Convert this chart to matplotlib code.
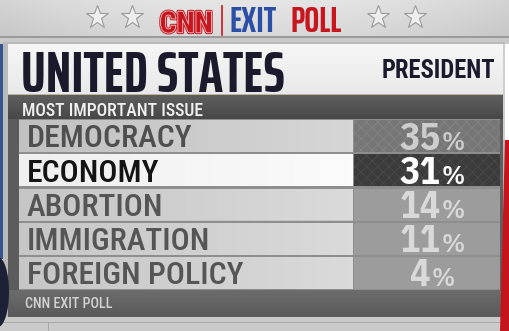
import numpy as np
import matplotlib
matplotlib.use("Agg")
import matplotlib.pyplot as plt
from matplotlib.patches import Rectangle, Polygon, Ellipse
from matplotlib.textpath import TextPath
from matplotlib.font_manager import FontProperties
import matplotlib.patheffects as pe

# ---------------- data ----------------
brand = "CNN"
header_left = "EXIT"
header_right = "POLL"
title = "UNITED STATES"
race = "PRESIDENT"
question = "MOST IMPORTANT ISSUE"
source = "CNN EXIT POLL"
categories = ["DEMOCRACY", "ECONOMY", "ABORTION", "IMMIGRATION", "FOREIGN POLICY"]
values = [35, 31, 14, 11, 4]
highlight = "ECONOMY"

# ---------------- style ----------------
W, H, DPI = 509, 331, 100
F_TITLE = ("Saira ExtraCondensed", 700, 0.688)
F_LABEL = ("Roboto Condensed", 500, 0.711)
F_BOLD = ("Roboto Condensed", 700, 0.711)
F_NUM = ("IBM Plex Sans Condensed", 700, 0.698)


def fsize(cap_px, font):
    return cap_px / font[2] * 72.0 / DPI


fig = plt.figure(figsize=(W / DPI, H / DPI), dpi=DPI)
ax = fig.add_axes([0, 0, 1, 1])
ax.set_xlim(0, W)
ax.set_ylim(H, 0)
ax.axis("off")


def hex2rgb(c):
    c = c.lstrip("#")
    return np.array([int(c[i:i + 2], 16) / 255 for i in (0, 2, 4)])


def grad(x0, x1, y0, y1, c0, c1, vertical=True, z=1, clip=None):
    a, b = hex2rgb(c0), hex2rgb(c1)
    t = np.linspace(0, 1, 32)
    arr = a[None, :] * (1 - t[:, None]) + b[None, :] * t[:, None]
    arr = arr[:, None, :] if vertical else arr[None, :, :]
    im = ax.imshow(arr, extent=(x0, x1, y1, y0), origin="upper",
                   interpolation="bilinear", aspect="auto", zorder=z)
    if clip is not None:
        im.set_clip_path(clip)
    return im


def rect(x0, y0, w, h, color, z=1, **kw):
    r = Rectangle((x0, y0), w, h, facecolor=color, edgecolor="none", zorder=z, **kw)
    ax.add_patch(r)
    return r


def ink(s, size, font):
    fp = FontProperties(family=font[0], weight=font[1])
    e = TextPath((0, 0), s, size=size, prop=fp).get_extents()
    k = DPI / 72.0
    return e.x0 * k, e.x1 * k


def fit_text(s, x0, x1, baseline, font, color, z=5, **kw):
    a, b = ink(s, 100, font)
    size = 100 * (x1 - x0) / (b - a)
    off = a * size / 100
    return ax.text(x0 - off, baseline, s, fontsize=size, family=font[0],
                   fontweight=font[1], color=color, ha="left", va="baseline",
                   zorder=z, **kw)


# ---------------- top banner ----------------
hx = np.linspace(-1, 1, 80)
hy = np.linspace(0, 1, 20)
base = 0.90 - 0.07 * hx[None, :] ** 2 - 0.05 * hy[:, None]
ban = np.repeat(base[:, :, None], 3, axis=2)
ax.imshow(ban, extent=(0, W, 38, 0), origin="upper", interpolation="bilinear",
          aspect="auto", zorder=1, vmin=0, vmax=1)
rect(0, 36, W, 2, "#9a9a9a", z=2)
rect(0, 38, W, 6, "#c9c9c9", z=2)

star_x = [97, 132, 378, 415]
ax.plot(star_x, [17] * len(star_x), ls="none", marker="*", ms=17,
        mfc="#eeeeee", mec="#9a9a9a", mew=0.8, zorder=3)

red = "#c8161e"
blue = "#2b4ea6"
fit_text(brand, 161, 211, 32.5, F_BOLD, red, z=4,
         path_effects=[pe.Stroke(linewidth=2.4, foreground=red),
                       pe.Stroke(linewidth=0.9, foreground="white"),
                       pe.Normal()])
ax.plot([222, 222], [6, 35], color=red, lw=1.2, zorder=4)
hdr_fs = fsize(24.5, F_TITLE)
a1, b1 = ink(header_left, hdr_fs, F_TITLE)
ax.text(231 - a1, 32.5, header_left, fontsize=hdr_fs, family=F_TITLE[0],
        fontweight=F_TITLE[1], color=blue, ha="left", va="baseline", zorder=4)
a2, b2 = ink(header_right, hdr_fs, F_TITLE)
px = max(292, 231 + (b1 - a1) + 5)
ax.text(px - a2, 32.5, header_right, fontsize=hdr_fs, family=F_TITLE[0],
        fontweight=F_TITLE[1], color=red, ha="left", va="baseline", zorder=4)

# ---------------- edges ----------------
rect(0, 44, 4, 215, "#34538f", z=2)
ax.add_patch(Ellipse((-2, 292), 22, 70, facecolor="#1c2136", edgecolor="none", zorder=6))
ax.add_patch(Polygon([[505, 140], [W, 140], [W, H], [500, H]], closed=True,
                     facecolor="#c4141c", edgecolor="none", zorder=6))
rect(503, 44, 2, 96, "#cfcfcf", z=5)

# ---------------- panel ----------------
rect(3, 42, 502, 276, "#b9b9b9", z=2)
grad(8, 503, 44, 95, "#f6f6f6", "#e9e9e9", z=3)
rect(8, 94, 495, 1, "#b8b59a", z=4)
grad(8, 503, 95, 119, "#5f5f5f", "#474747", z=3)
rect(8, 119, 495, 198, "#8e8e8e", z=3)
rect(8, 119, 11, 198, "#5c5c5c", z=3)
grad(8, 503, 290, 317, "#6c6c6c", "#5a5a5a", z=3)
rect(500, 119, 3, 171, "#5f5f5f", z=3)

# bottom strip
rect(0, 317, W, 14, "#cacaca", z=2)
rect(0, 322, W, 1, "#a9a9a9", z=2)
rect(48, 322, 1, 9, "#a9a9a9", z=2)

# title texts
navy = "#1b1a2c"
ax.text(21, 92.5, title, fontsize=fsize(40, F_TITLE), family=F_TITLE[0],
        fontweight=F_TITLE[1], color=navy, ha="left", va="baseline", zorder=5)
ax.text(495, 78.5, race, fontsize=fsize(17.5, F_BOLD), family=F_BOLD[0],
        fontweight=F_BOLD[1], color=navy, ha="right", va="baseline", zorder=5)
ax.text(22, 116, question, fontsize=fsize(12.6, F_LABEL), family=F_LABEL[0],
        fontweight=F_LABEL[1], color="#f0f0f0", ha="left", va="baseline", zorder=5)
ax.text(25, 308, source, fontsize=fsize(10, F_LABEL), family=F_LABEL[0],
        fontweight=F_LABEL[1], color="#d2d2d2", ha="left", va="baseline", zorder=5)

# ---------------- rows ----------------
n = len(categories)
row_top, pitch, row_h = 120.0, 34.25, 32.0
centers = row_top + row_h / 2 + pitch * np.arange(n)
lab_left, lab_w = 19, 334
val_left, val_w = 354, 146

is_hi = [c == highlight for c in categories]
lab_cols = []
val_cols = []
num_cols = []
txt_cols = []
for i, c in enumerate(categories):
    if is_hi[i]:
        lab_cols.append(("#efefef", "#fbfbfb")); val_cols.append("#3b3b3b")
        num_cols.append("#ffffff"); txt_cols.append("#141414")
    elif i == 0:
        lab_cols.append(("#c1c1c1", "#d6d6d6")); val_cols.append("#767676")
        num_cols.append("#cdcdcd"); txt_cols.append("#4f4f4f")
    else:
        lab_cols.append(("#c6c6c6", "#dadada")); val_cols.append("#9c9c9c")
        num_cols.append("#d9d9d9"); txt_cols.append("#555555")

lab_bars = ax.barh(centers, [lab_w] * n, left=lab_left, height=row_h,
                   color=[lc[0] for lc in lab_cols], linewidth=0, zorder=4)
for bar, lc in zip(lab_bars, lab_cols):
    x0, y0 = bar.get_x(), bar.get_y()
    grad(x0, x0 + bar.get_width(), y0, y0 + bar.get_height(), lc[0], lc[1],
         vertical=False, z=4.5, clip=bar)

plt.rcParams["hatch.linewidth"] = 0.6
val_bars = ax.barh(centers, [val_w] * n, left=val_left, height=row_h,
                   color=val_cols, linewidth=0, zorder=4)
for i, bar in enumerate(val_bars):
    if i <= 1:
        hcol = "#858585" if i == 0 else "#4a4a4a"
        hb = Rectangle((bar.get_x(), bar.get_y()), bar.get_width(), bar.get_height(),
                       facecolor="none", edgecolor=hcol, hatch="xxx", linewidth=0, zorder=4.6)
        ax.add_patch(hb)

fpn = FontProperties(family=F_NUM[0], weight=F_NUM[1])
num_fs = fsize(26.5, F_NUM)
pct_fs = fsize(19, F_NUM)
for i, (c, v) in enumerate(zip(categories, values)):
    cy = centers[i]
    ax.text(27, cy + 11.3, c, fontsize=fsize(22.5, F_LABEL), family=F_LABEL[0],
            fontweight=F_LABEL[1], color=txt_cols[i], ha="left", va="baseline", zorder=6)
    s = f"{v}"
    wn = TextPath((0, 0), s, size=num_fs, prop=fpn).get_extents().x1 * DPI / 72
    wp = TextPath((0, 0), "%", size=pct_fs, prop=fpn).get_extents().x1 * DPI / 72
    gap = 2.0
    x0 = 432 - (wn + gap + wp) / 2
    ax.text(x0, cy + 13.5, s, fontsize=num_fs, family=F_NUM[0], fontweight=F_NUM[1],
            color=num_cols[i], ha="left", va="baseline", zorder=6)
    ax.text(x0 + wn + gap, cy + 13.5, "%", fontsize=pct_fs, family=F_NUM[0],
            fontweight=500, color=num_cols[i], ha="left", va="baseline", zorder=6)

fig.savefig("out.png", dpi=DPI)
